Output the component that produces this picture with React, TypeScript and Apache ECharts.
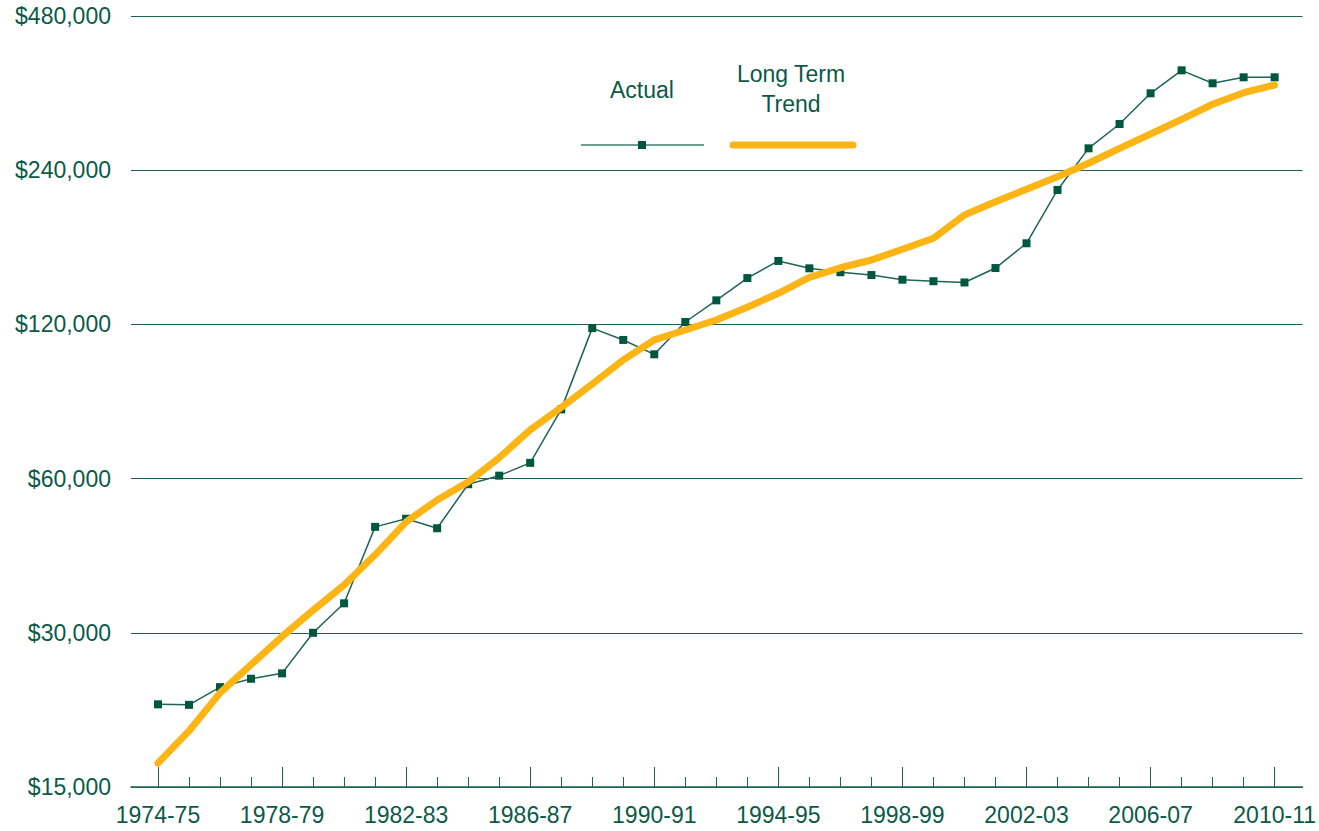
import React, { useEffect, useRef } from "react";
import * as echarts from "echarts";

const categories = [
  "1974-75", "1975-76", "1976-77", "1977-78", "1978-79", "1979-80", "1980-81", "1981-82",
  "1982-83", "1983-84", "1984-85", "1985-86", "1986-87", "1987-88", "1988-89", "1989-90",
  "1990-91", "1991-92", "1992-93", "1993-94", "1994-95", "1995-96", "1996-97", "1997-98",
  "1998-99", "1999-00", "2000-01", "2001-02", "2002-03", "2003-04", "2004-05", "2005-06",
  "2006-07", "2007-08", "2008-09", "2009-10", "2010-11",
];

const actual = [
  21750, 21700, 23500, 24400, 25000, 30000, 34250, 48300, 50100, 48000,
  58500, 60800, 64400, 81900, 118000, 111900, 104900, 121300, 133700, 147800,
  159600, 154400, 151700, 149800, 146700, 145700, 144900, 154600, 172800, 219600,
  264800, 295400, 339100, 376000, 354700, 364400, 364400,
];

const trend = [
  16700, 19300, 22900, 26000, 29500, 33200, 37200, 42600, 49400, 54500,
  59100, 65900, 74700, 82600, 91800, 102300, 111900, 117000, 122400, 129600,
  138000, 148300, 154800, 160300, 168200, 176700, 196200, 208300, 220200, 233000,
  247600, 264800, 282400, 301700, 322800, 340000, 352000,
];

const yTickValues = [15000, 30000, 60000, 120000, 240000, 480000];
const labelEvery = 4;

const BASE = yTickValues[0];
const GREEN = "#0b5a47";
const LINE_GREEN = "#1d6553";
const ORANGE = "#FDB515";
const FONT = "'Liberation Sans', Arial, sans-serif";

export default function App() {
  const ref = useRef<HTMLDivElement>(null);

  useEffect(() => {
    document.body.style.margin = "0";
    if (!ref.current) return;
    const chart = echarts.init(ref.current, undefined, { renderer: "svg" });

    const allIdx = categories.map((_, i) => i);
    const majorIdx = allIdx.filter((i) => i % labelEvery === 0);

    chart.setOption({
      animation: false,
      backgroundColor: "#ffffff",
      grid: { left: 131, right: 15, top: 16, bottom: 44, containLabel: false },
      xAxis: [
        {
          type: "value",
          min: -0.87,
          max: 36.9,
          axisLine: { show: true, lineStyle: { color: LINE_GREEN, width: 1.5 } },
          axisTick: {
            show: true,
            inside: true,
            length: 10,
            customValues: allIdx,
            lineStyle: { color: LINE_GREEN, width: 1 },
          },
          axisLabel: {
            show: true,
            customValues: majorIdx,
            margin: 16,
            color: GREEN,
            fontSize: 23,
            fontFamily: FONT,
            formatter: (v: number) => categories[Math.round(v)] ?? "",
          },
          splitLine: { show: false },
        },
        {
          type: "value",
          position: "bottom",
          min: -0.87,
          max: 36.9,
          axisLine: { show: false },
          axisTick: {
            show: true,
            inside: true,
            length: 20,
            customValues: majorIdx,
            lineStyle: { color: LINE_GREEN, width: 1 },
          },
          axisLabel: { show: false },
          splitLine: { show: false },
        },
      ],
      yAxis: {
        type: "log",
        logBase: 2,
        min: 1,
        max: yTickValues[yTickValues.length - 1] / BASE,
        axisLine: { show: false },
        axisTick: { show: false },
        axisLabel: {
          color: GREEN,
          fontSize: 23,
          fontFamily: FONT,
          margin: 20,
          formatter: (v: number) => "$" + Math.round(v * BASE).toLocaleString("en-US"),
        },
        splitLine: { show: true, lineStyle: { color: LINE_GREEN, width: 1 } },
      },
      series: [
        {
          name: "Actual",
          type: "line",
          data: actual.map((v, i) => [i, v / BASE]),
          symbol: "rect",
          symbolSize: 8,
          lineStyle: { color: LINE_GREEN, width: 1.5 },
          itemStyle: { color: "#00573f" },
          z: 2,
        },
        {
          name: "Long Term Trend",
          type: "line",
          data: trend.map((v, i) => [i, v / BASE]),
          symbol: "none",
          lineStyle: { color: ORANGE, width: 7, cap: "round", join: "round" },
          z: 3,
        },
      ],
      graphic: [
        {
          type: "text",
          x: 642,
          y: 90,
          style: {
            text: "Actual",
            fill: GREEN,
            font: `23px ${FONT}`,
            textAlign: "center",
            textVerticalAlign: "middle",
          },
        },
        {
          type: "line",
          shape: { x1: 581, y1: 145, x2: 704, y2: 145 },
          style: { stroke: "#3f7f6c", lineWidth: 1.5 },
        },
        {
          type: "rect",
          shape: { x: 638, y: 141, width: 8, height: 8 },
          style: { fill: "#00573f" },
        },
        {
          type: "text",
          x: 791,
          y: 89,
          style: {
            text: "Long Term\nTrend",
            fill: GREEN,
            font: `23px ${FONT}`,
            lineHeight: 30,
            textAlign: "center",
            textVerticalAlign: "middle",
          },
        },
        {
          type: "line",
          shape: { x1: 733, y1: 145, x2: 853, y2: 145 },
          style: { stroke: ORANGE, lineWidth: 7, lineCap: "round" },
        },
      ],
    });

    return () => chart.dispose();
  }, []);

  return <div ref={ref} style={{ width: 1319, height: 831 }} />;
}
